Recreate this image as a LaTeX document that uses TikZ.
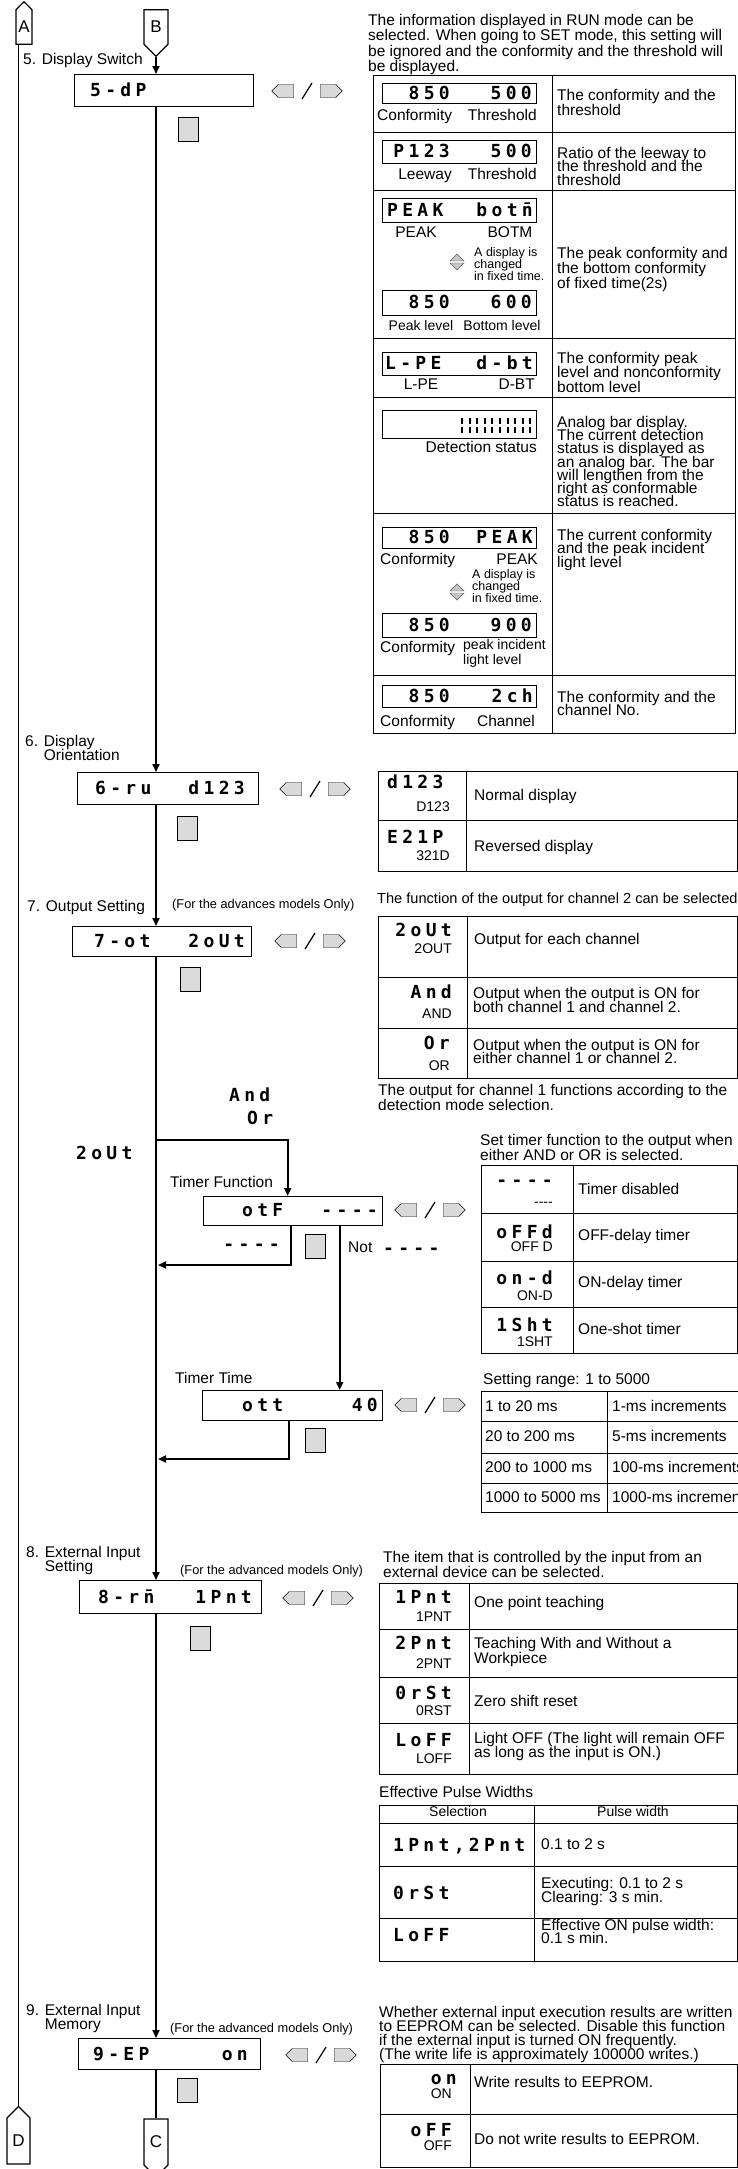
\documentclass[tikz,border=0pt]{standalone}
\usepackage{fontspec}
\setmainfont{Liberation Sans}
\newfontfamily\segfont[LetterSpace=24]{DejaVu Sans Mono}
\usetikzlibrary{arrows.meta,shapes.symbols}

\newcommand{\fs}[2]{\fontsize{#1}{#2}\selectfont\lineskiplimit=-50pt\relax}
\newcommand{\lrkeys}[3]{%
  \node[lkey] (#1l) at (#2+11,#3) {};
  \node[rkey] (#1r) at (#2+53,#3) {};
  \draw[line width=1.2pt] (#2+27,#3+8)--(#2+37,#3-8);
}
\newcommand{\updown}[2]{%
  \filldraw[fill=gray!45,draw=gray!70!black] (#1-7,#2-1)--(#1,#2-8)--(#1+7,#2-1)--cycle;
  \filldraw[fill=gray!45,draw=gray!70!black] (#1-7,#2+1)--(#1,#2+8)--(#1+7,#2+1)--cycle;
}

\begin{document}
\begin{tikzpicture}[x=1pt,y=-1pt,>={Triangle[length=8pt,width=7pt]},
  txt/.style={font=\fs{15.5}{14},inner sep=0,text height=11,text depth=3},
  sub/.style={font=\fs{14}{13},inner sep=0,text height=10,text depth=3},
  par/.style={font=\fs{15.5}{14},inner sep=0,align=left,anchor=north west},
  small/.style={font=\fs{12.8}{12},inner sep=0},
  seg/.style={font=\fontsize{18}{18}\segfont\bfseries,inner sep=0,text height=13,text depth=0},
  dbox/.style={draw,line width=1.4pt,inner sep=0,anchor=north west},
  mbox/.style={draw,line width=1pt,inner sep=0,anchor=north west},
  flow/.style={line width=1.8pt},
  grid/.style={line width=1pt},
  conn/.style={signal,draw,line width=1.2pt,fill=white,inner sep=0,font=\fs{17}{17}},
  lkey/.style={signal,signal to=west,draw,fill=gray!30,minimum width=22,minimum height=13,inner sep=0},
  rkey/.style={lkey,signal to=east},
  sqkey/.style={draw,line width=1pt,fill=gray!28,minimum width=20,minimum height=24,inner sep=0}]
\useasboundingbox (0,0) rectangle (738,2169);

% connectors and main flow
\node[conn,signal to=north,minimum width=16,minimum height=40] (A) at (24,27) {A};
\node[conn,signal to=south,minimum width=24,minimum height=40] (B) at (156,27) {B};
\node[conn,signal to=south,minimum width=24,minimum height=52] (C) at (156,2142) {C};
\node[conn,signal to=north,minimum width=23,minimum height=52] (D) at (18.5,2141) {D};
\draw[flow] (A.south -| D.north) -- (D.north);

% 5
\node[txt,anchor=west] (l5) at (23,60) {5. Display Switch};
\node[dbox,minimum width=179,minimum height=32] (d5) at (74,74) {};
\node[seg,anchor=west] (d5a) at (90,90) {5-dP};
\lrkeys{k5}{275}{91}
\node[sqkey] (s5) at (188,129) {};
\draw[flow,->] (B.south) -- (B.south |- d5.north);

\node[par,font=\fs{15.5}{15.5}] (p5) at (368,14) {The information displayed in RUN mode can be\\selected. When going to SET mode, this setting will\\be ignored and the conformity and the threshold will\\be displayed.};
\draw[grid] (373,75) rectangle (735,733);
\draw[grid] (552,75) -- (552,733);
\foreach \y in {132,190,338,397,513,675} \draw[grid] (373,\y) -- (735,\y);
\node[mbox,minimum width=154,minimum height=20] (m1) at (382,83) {};
\node[seg,anchor=east] at (450,93) {850};
\node[seg,anchor=east] at (532,93) {500};
\node[txt,anchor=west] (c1) at (377,116) {Conformity};
\node[txt,anchor=east] (t1) at (537,116) {Threshold};
\node[par,font=\fs{15.5}{15.5}] (r1) at (557,89) {The conformity and the\\threshold};
\node[mbox,minimum width=154,minimum height=23] (m2) at (382,140) {};
\node[seg,anchor=east] at (450,151) {P123};
\node[seg,anchor=east] at (532,151) {500};
\node[txt,anchor=east] (e2) at (452,175) {Leeway};
\node[txt,anchor=east] (t2) at (537,175) {Threshold};
\node[par,font=\fs{15.5}{13.5}] (r2) at (557,147) {Ratio of the leeway to\\the threshold and the\\threshold};
\node[mbox,minimum width=154,minimum height=24] (m3) at (382,198) {};
\node[seg,anchor=west] at (387,210) {PEAK};
\node[seg,anchor=east] at (533,210) {bot\={n}};
\node[txt] (pk3) at (416,233) {PEAK};
\node[txt] (bt3) at (510,233) {BOTM};
\updown{457}{262}
\node[par,font=\fs{12.5}{12}] (ch3) at (474,247) {A display is\\changed\\in fixed time.};
\node[mbox,minimum width=154,minimum height=25] (m4) at (382,290) {};
\node[seg,anchor=east] at (450,302) {850};
\node[seg,anchor=east] at (532,302) {600};
\node[sub] (pl4) at (421,327) {Peak level};
\node[sub] (bl4) at (502,327) {Bottom level};
\node[par,font=\fs{15.5}{15}] (r3) at (557,247) {The peak conformity and\\the bottom conformity\\of fixed time(2s)};
\node[mbox,minimum width=154,minimum height=23] (m5) at (382,352) {};
\node[seg,anchor=west] at (385,363) {L-PE};
\node[seg,anchor=east] at (533,363) {d-bt};
\node[txt] (lp5) at (421,385) {L-PE};
\node[txt,anchor=east] (db5) at (535,385) {D-BT};
\node[par,font=\fs{15.5}{14.5}] (r4) at (557,352) {The conformity peak\\level and nonconformity\\bottom level};
\node[mbox,minimum width=154,minimum height=28] (m6) at (382,410) {};
\foreach \i in {0,...,9} {
  \draw[line width=2pt] (462+\i*7.6,418) -- (462+\i*7.6,424);
  \draw[line width=2pt] (462+\i*7.6,427) -- (462+\i*7.6,433);
}
\node[txt,anchor=east] (ds6) at (537,448) {Detection status};
\node[par,font=\fs{15.5}{13.2}] (r5) at (557,416) {Analog bar display.\\The current detection\\status is displayed as\\an analog bar. The bar\\will lengthen from the\\right as conformable\\status is reached.};
\node[mbox,minimum width=154,minimum height=21] (m7) at (382,527) {};
\node[seg,anchor=east] at (450,537) {850};
\node[seg,anchor=east] at (533,537) {PEAK};
\node[txt,anchor=west] (c7) at (380,560) {Conformity};
\node[txt,anchor=east] (pk7) at (538,560) {PEAK};
\updown{457}{592}
\node[par,font=\fs{12.5}{12}] (ch7) at (472,569) {A display is\\changed\\in fixed time.};
\node[mbox,minimum width=154,minimum height=24] (m8) at (382,613) {};
\node[seg,anchor=east] at (450,625) {850};
\node[seg,anchor=east] at (532,625) {900};
\node[txt,anchor=west] (c8) at (380,648) {Conformity};
\node[par,font=\fs{14}{15}] (pi8) at (463,639) {peak incident\\light level};
\node[par,font=\fs{15.5}{13.5}] (r6) at (557,529) {The current conformity\\and the peak incident\\light level};
\node[mbox,minimum width=154,minimum height=22] (m9) at (382,685) {};
\node[seg,anchor=east] at (450,696) {850};
\node[seg,anchor=east] at (533,696) {2ch};
\node[txt,anchor=west] (c9) at (380,722) {Conformity};
\node[txt,anchor=east] (cn9) at (535,722) {Channel};
\node[par,font=\fs{15.5}{13.5}] (r7) at (557,691) {The conformity and the\\channel No.};

% 6
\node[par,font=\fs{15.5}{14.5}] (l6) at (25,735) {6. Display\\\phantom{6. }Orientation};
\node[dbox,minimum width=181,minimum height=32] (d6) at (77,772) {};
\node[seg,anchor=west] (d6a) at (95,788) {6-ru};
\node[seg,anchor=east] (d6b) at (245,788) {d123};
\lrkeys{k6}{283}{789}
\node[sqkey] (s6) at (187,828) {};
\draw[flow,->] (d5.south -| B.south) -- (d6.north -| B.south);
\draw[grid] (378,771) rectangle (737,871);
\draw[grid] (466,771) -- (466,871);
\draw[grid] (378,820) -- (737,820);
\node[seg,anchor=west] at (387,782) {d123};
\node[sub,anchor=east] (n6) at (450,808) {D123};
\node[txt,anchor=west] (nd6) at (474,796) {Normal display};
\node[seg,anchor=west] at (387,837) {E21P};
\node[sub,anchor=east] (v6) at (450,857) {321D};
\node[txt,anchor=west] (rd6) at (474,847) {Reversed display};

% 7
\node[txt,anchor=west] (l7) at (27,907) {7. Output Setting};
\node[small,anchor=west] (o7) at (172,905) {(For the advances models Only)};
\node[dbox,minimum width=179,minimum height=30] (d7) at (72,926) {};
\node[seg,anchor=west] (d7a) at (94,941) {7-ot};
\node[seg,anchor=east] (d7b) at (245,941) {2oUt};
\lrkeys{k7}{278}{941}
\node[sqkey] (s7) at (190,979) {};
\draw[flow,->] (d6.south -| B.south) -- (d7.north -| B.south);
\node[txt,anchor=west,font=\fs{14.6}{14}] (f7) at (377,899) {The function of the output for channel 2 can be selected};
\draw[grid] (378,916) rectangle (737,1078);
\draw[grid] (467,916) -- (467,1078);
\foreach \y in {977,1028} \draw[grid] (378,\y) -- (737,\y);
\node[seg,anchor=east] at (452,930) {2oUt};
\node[sub,anchor=east] (u7) at (452,950) {2OUT};
\node[txt,anchor=west] (ec7) at (474,940) {Output for each channel};
\node[seg,anchor=east] at (452,992) {And};
\node[sub,anchor=east] (a7) at (452,1015) {AND};
\node[par,font=\fs{15.5}{14.5}] (an7) at (473,987) {Output when the output is ON for\\both channel 1 and channel 2.};
\node[seg,anchor=east] at (450,1043) {Or};
\node[sub,anchor=east] (or7) at (450,1067) {OR};
\node[par,font=\fs{15.5}{13.5}] (on7) at (473,1039) {Output when the output is ON for\\either channel 1 or channel 2.};
\node[par,font=\fs{15.5}{15}] (ch1) at (378,1084) {The output for channel 1 functions according to the\\detection mode selection.};

% timer function
\node[seg,anchor=west] (ao) at (229,1095) {And};
\node[seg,anchor=west] (oo) at (247,1118) {Or};
\node[seg,anchor=west] (two) at (76,1153) {2oUt};
\coordinate (br) at (156,1140);
\node[txt,anchor=west] (ltf) at (170,1183) {Timer Function};
\node[dbox,minimum width=179,minimum height=29] (tf) at (203,1196) {};
\node[seg,anchor=west] (tfa) at (242,1210) {otF};
\node[seg,anchor=east] (tfb) at (378,1210) {----};
\lrkeys{ktf}{398}{1210}
\draw[flow,->] (br) -| ([xshift=-5.5]tf.north);
\node[seg,anchor=east] (dsh) at (280,1244) {----};
\node[sqkey] (stf) at (315,1246) {};
\node[txt,anchor=west] (nt) at (348,1248) {Not};
\node[seg,anchor=west] (ndsh) at (383,1248) {----};
\coordinate (r1) at (158,1265);
\draw[flow,->] ([xshift=-2.5]tf.south) |- (r1);
\node[par,font=\fs{15.5}{15}] (st) at (480,1134) {Set timer function to the output when\\either AND or OR is selected.};
\draw[grid] (481,1165) rectangle (737,1353);
\draw[grid] (573,1165) -- (573,1353);
\foreach \y in {1213,1261,1307} \draw[grid] (481,\y) -- (737,\y);
\node[seg,anchor=east] at (553,1180) {----};
\node[sub,anchor=east] (td1) at (553,1203) {-{}-{}-{}-};
\node[txt,anchor=west] (tx1) at (578,1190) {Timer disabled};
\node[seg,anchor=east] at (553,1232) {oFFd};
\node[sub,anchor=east] (td2) at (553,1248) {OFF D};
\node[txt,anchor=west] (tx2) at (578,1236) {OFF-delay timer};
\node[seg,anchor=east] at (553,1278) {on-d};
\node[sub,anchor=east] (td3) at (553,1297) {ON-D};
\node[txt,anchor=west] (tx3) at (578,1283) {ON-delay timer};
\node[seg,anchor=east] at (553,1325) {1Sht};
\node[sub,anchor=east] (td4) at (553,1343) {1SHT};
\node[txt,anchor=west] (tx4) at (578,1330) {One-shot timer};

% timer time
\node[txt,anchor=west] (ltt) at (175,1379) {Timer Time};
\node[dbox,minimum width=180,minimum height=30] (tt) at (202,1390) {};
\node[seg,anchor=west] (tta) at (242,1405) {ott};
\node[seg,anchor=east] (ttb) at (378,1405) {40};
\lrkeys{ktt}{398}{1405}
\draw[flow,->] ([xshift=46.5]tf.south) -- ([xshift=46.5]tf.south |- tt.north);
\node[sqkey] (stt) at (315,1440) {};
\coordinate (r2) at (158,1459);
\draw[flow,->] ([xshift=-4]tt.south) |- (r2);
\node[txt,anchor=west] (sr) at (483,1380) {Setting range: 1 to 5000};
\draw[grid] (481,1391) rectangle (745,1512);
\draw[grid] (607,1391) -- (607,1512);
\foreach \y in {1421,1453,1483} \draw[grid] (481,\y) -- (745,\y);
\node[txt,anchor=west] (ra1) at (485,1407) {1 to 20 ms};
\node[txt,anchor=west] (rb1) at (612,1407) {1-ms increments};
\node[txt,anchor=west] (ra2) at (485,1437) {20 to 200 ms};
\node[txt,anchor=west] (rb2) at (612,1437) {5-ms increments};
\node[txt,anchor=west] (ra3) at (485,1468) {200 to 1000 ms};
\node[txt,anchor=west] (rb3) at (612,1468) {100-ms increments};
\node[txt,anchor=west] (ra4) at (485,1498) {1000 to 5000 ms};
\node[txt,anchor=west] (rb4) at (612,1498) {1000-ms increments};

% 8
\node[par,font=\fs{15.5}{14.5}] (l8) at (26,1546) {8. External Input\\\phantom{8. }Setting};
\node[small,anchor=west] (o8) at (180,1571) {(For the advanced models Only)};
\node[dbox,minimum width=182,minimum height=33] (d8) at (79,1580) {};
\node[seg,anchor=west] (d8a) at (98,1597) {8-r\={n}};
\node[seg,anchor=east] (d8b) at (252,1597) {1Pnt};
\lrkeys{k8}{286}{1598}
\node[sqkey] (s8) at (200,1638) {};
\draw[flow,->] (d7.south -| B.south) -- (d8.north -| B.south);
\node[par,font=\fs{15.5}{15}] (it) at (383,1551) {The item that is controlled by the input from an\\external device can be selected.};
\draw[grid] (379,1583) rectangle (737,1774);
\draw[grid] (469,1583) -- (469,1774);
\foreach \y in {1629,1677,1723} \draw[grid] (379,\y) -- (737,\y);
\node[seg,anchor=east] at (452,1597) {1Pnt};
\node[sub,anchor=east] (ip1) at (452,1618) {1PNT};
\node[txt,anchor=west] (ix1) at (474,1603) {One point teaching};
\node[seg,anchor=east] at (452,1643) {2Pnt};
\node[sub,anchor=east] (ip2) at (452,1665) {2PNT};
\node[par,font=\fs{15.5}{15}] (ix2) at (474,1637) {Teaching With and Without a\\Workpiece};
\node[seg,anchor=east] at (452,1693) {0rSt};
\node[sub,anchor=east] (ip3) at (452,1712) {0RST};
\node[txt,anchor=west] (ix3) at (474,1702) {Zero shift reset};
\node[seg,anchor=east] at (452,1740) {LoFF};
\node[sub,anchor=east] (ip4) at (452,1760) {LOFF};
\node[par,font=\fs{15.5}{14}] (ix4) at (474,1732) {Light OFF (The light will remain OFF\\as long as the input is ON.)};
\node[txt,anchor=west] (ep) at (379,1793) {Effective Pulse Widths};
\draw[grid] (379,1805) rectangle (737,1961);
\draw[grid] (534,1805) -- (534,1961);
\foreach \y in {1823,1866,1918} \draw[grid] (379,\y) -- (737,\y);
\node[sub] (hs) at (458,1813) {Selection};
\node[sub] (hp) at (633,1813) {Pulse width};
\node[seg,anchor=west] at (393,1845) {1Pnt,2Pnt};
\node[txt,anchor=west] (pw1) at (541,1845) {0.1 to 2 s};
\node[seg,anchor=west] at (393,1893) {0rSt};
\node[par,font=\fs{15.5}{14}] (pw2) at (541,1877) {Executing: 0.1 to 2 s\\Clearing: 3 s min.};
\node[seg,anchor=west] at (393,1935) {LoFF};
\node[par,font=\fs{15.5}{13}] (pw3) at (541,1919) {Effective ON pulse width:\\0.1 s min.};

% 9
\node[par,font=\fs{15.5}{14.5}] (l9) at (26,2004) {9. External Input\\\phantom{9. }Memory};
\node[small,anchor=west] (o9) at (170,2029) {(For the advanced models Only)};
\node[dbox,minimum width=182,minimum height=31] (d9) at (78,2038) {};
\node[seg,anchor=west] (d9a) at (93,2054) {9-EP};
\node[seg,anchor=east] (d9b) at (248,2054) {on};
\lrkeys{k9}{289}{2055}
\node[sqkey] (s9) at (187,2090) {};
\draw[flow,->] (d8.south -| B.south) -- (d9.north -| B.south);
\draw[flow] (d9.south -| C.north) -- (C.north);
\node[par,font=\fs{15.5}{14}] (wr) at (379,2006) {Whether external input execution results are written\\to EEPROM can be selected. Disable this function\\if the external input is turned ON frequently.\\(The write life is approximately 100000 writes.)};
\draw[grid] (380,2064) rectangle (737,2167);
\draw[grid] (470,2064) -- (470,2167);
\draw[grid] (380,2114) -- (737,2114);
\node[seg,anchor=east] at (457,2078) {on};
\node[sub,anchor=east] (w1) at (452,2095) {ON};
\node[txt,anchor=west] (wx1) at (474,2083) {Write results to EEPROM.};
\node[seg,anchor=east] at (452,2130) {oFF};
\node[sub,anchor=east] (w2) at (452,2147) {OFF};
\node[txt,anchor=west] (wx2) at (474,2140) {Do not write results to EEPROM.};
\end{tikzpicture}
\end{document}
